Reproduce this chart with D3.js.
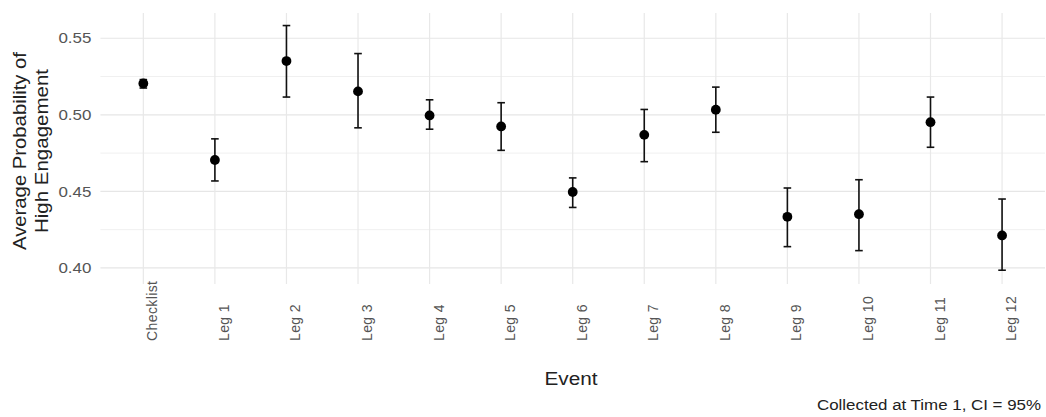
<!DOCTYPE html>
<html>
<head>
<meta charset="utf-8">
<script src="https://cdn.jsdelivr.net/npm/d3@7"></script>
<style>
  body { margin: 0; background: #fff; }
  text { font-family: "Liberation Sans", Arial, sans-serif; }
</style>
</head>
<body>
<svg id="chart" width="1046" height="417"></svg>
<script>
'use strict';

// values
var events = ['Checklist', 'Leg 1', 'Leg 2', 'Leg 3', 'Leg 4', 'Leg 5', 'Leg 6',
  'Leg 7', 'Leg 8', 'Leg 9', 'Leg 10', 'Leg 11', 'Leg 12'];
var means = [0.5205, 0.4705, 0.5351, 0.5153, 0.4996, 0.4924, 0.4496,
  0.4869, 0.5033, 0.4334, 0.4351, 0.4952, 0.4212];
var lower = [0.5175, 0.4568, 0.5116, 0.4915, 0.4906, 0.4768, 0.4395,
  0.4694, 0.4886, 0.4139, 0.4113, 0.4788, 0.3985];
var upper = [0.5230, 0.4843, 0.5583, 0.5400, 0.5098, 0.5079, 0.4588,
  0.5035, 0.5181, 0.4522, 0.4576, 0.5116, 0.4450];
var yTicks = [0.40, 0.45, 0.50, 0.55];
var yMinor = [0.425, 0.475, 0.525];

var rows = events.map(function (e, i) {
  return { event: e, mean: means[i], lo: lower[i], hi: upper[i] };
});

var svg = d3.select('#chart');
var pLeft = 100.4, pRight = 1045, pTop = 13, pBottom = 284;

var x = d3.scalePoint().domain(events).range([pLeft, pRight]).padding(0.6);
var y = d3.scaleLinear().domain([0.3895, 0.5665]).range([pBottom, pTop]);

// grid
var grid = svg.append('g');
grid.selectAll('line.minor').data(yMinor).enter().append('line')
  .attr('x1', pLeft).attr('x2', pRight)
  .attr('y1', function (d) { return y(d); }).attr('y2', function (d) { return y(d); })
  .attr('stroke', '#f0f0f0').attr('stroke-width', 1);
grid.selectAll('line.major').data(yTicks).enter().append('line')
  .attr('x1', pLeft).attr('x2', pRight)
  .attr('y1', function (d) { return y(d); }).attr('y2', function (d) { return y(d); })
  .attr('stroke', '#e6e6e6').attr('stroke-width', 1.2);
grid.selectAll('line.vert').data(events).enter().append('line')
  .attr('x1', function (d) { return x(d); }).attr('x2', function (d) { return x(d); })
  .attr('y1', pTop).attr('y2', pBottom)
  .attr('stroke', '#e8e8e8').attr('stroke-width', 1.2);

// y axis labels (reference text is drawn wide, so stretch it)
var yAxis = d3.axisLeft(y).tickValues(yTicks).tickFormat(d3.format('.2f')).tickSize(0).tickPadding(9);
var ya = svg.append('g').attr('transform', 'translate(' + pLeft + ',0)').call(yAxis);
ya.select('.domain').remove();
ya.selectAll('text').attr('font-size', 14.5).attr('fill', '#555')
  .attr('textLength', 33).attr('lengthAdjust', 'spacingAndGlyphs')
  .style('font-family', '"Liberation Sans", Arial, sans-serif');

// x axis labels, rotated
svg.append('g').selectAll('text').data(events).enter().append('text')
  .attr('transform', function (d) { return 'translate(' + (x(d) + 14) + ',341) rotate(-90)'; })
  .attr('text-anchor', 'start')
  .attr('font-size', 14).attr('fill', '#555')
  .attr('letter-spacing', 0.4)
  .text(function (d) { return d; });

// error bars
var bars = svg.append('g').selectAll('g').data(rows).enter().append('g')
  .attr('stroke', '#111').attr('stroke-width', 1.6);
bars.append('line')
  .attr('x1', function (d) { return x(d.event); }).attr('x2', function (d) { return x(d.event); })
  .attr('y1', function (d) { return y(d.lo); }).attr('y2', function (d) { return y(d.hi); });
bars.append('line')
  .attr('x1', function (d) { return x(d.event) - 3.8; }).attr('x2', function (d) { return x(d.event) + 3.8; })
  .attr('y1', function (d) { return y(d.lo); }).attr('y2', function (d) { return y(d.lo); });
bars.append('line')
  .attr('x1', function (d) { return x(d.event) - 3.8; }).attr('x2', function (d) { return x(d.event) + 3.8; })
  .attr('y1', function (d) { return y(d.hi); }).attr('y2', function (d) { return y(d.hi); });

// points
svg.append('g').selectAll('circle').data(rows).enter().append('circle')
  .attr('cx', function (d) { return x(d.event); })
  .attr('cy', function (d) { return y(d.mean); })
  .attr('r', 4.9).attr('fill', '#000');

// titles
var yt = svg.append('text').attr('transform', 'translate(0,151) rotate(-90)')
  .attr('text-anchor', 'middle').attr('font-size', 17.5).attr('fill', '#222');
yt.append('tspan').attr('x', 0).attr('y', 26).attr('textLength', 198)
  .attr('lengthAdjust', 'spacingAndGlyphs').text('Average Probability of');
yt.append('tspan').attr('x', 0).attr('y', 48).attr('textLength', 164)
  .attr('lengthAdjust', 'spacingAndGlyphs').text('High Engagement');

svg.append('text').attr('x', 571).attr('y', 385)
  .attr('text-anchor', 'middle').attr('font-size', 18).attr('fill', '#222')
  .attr('textLength', 53).attr('lengthAdjust', 'spacingAndGlyphs')
  .text('Event');

svg.append('text').attr('x', 1041).attr('y', 410)
  .attr('text-anchor', 'end').attr('font-size', 14).attr('fill', '#222')
  .attr('textLength', 224).attr('lengthAdjust', 'spacingAndGlyphs')
  .text('Collected at Time 1, CI = 95%');
</script>
</body>
</html>
